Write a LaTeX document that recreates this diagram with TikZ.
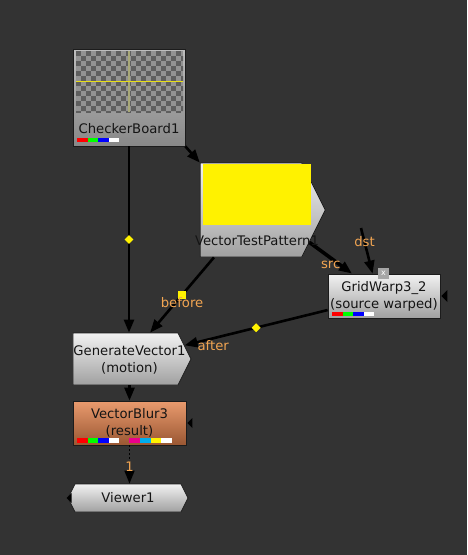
\documentclass[tikz,border=0pt]{standalone}
\usepackage{fontspec}
\setmainfont{DejaVu Sans}
\usetikzlibrary{arrows.meta,shapes.symbols,shapes.geometric}
\definecolor{graphbg}{HTML}{333333}
\definecolor{nodeline}{HTML}{1C1C1C}
\definecolor{nodetext}{HTML}{141414}
\definecolor{labelorange}{HTML}{F2A552}
\definecolor{handleyellow}{HTML}{FFF200}
\definecolor{greytop}{HTML}{F2F2F2}
\definecolor{greybot}{HTML}{A0A0A0}
\definecolor{cbtop}{HTML}{BEBEBE}
\definecolor{cbbot}{HTML}{888888}
\definecolor{blurtop}{HTML}{EA9B6E}
\definecolor{blurbot}{HTML}{9A5733}
\definecolor{checkdark}{HTML}{5E5E5E}
\definecolor{checklight}{HTML}{929292}
\definecolor{paleline}{HTML}{A8A878}
\definecolor{closegrey}{HTML}{A6A6A6}
\newcommand{\nukefont}{\fontsize{13.2}{17}\selectfont}

\begin{document}
\begin{tikzpicture}[x=1pt,y=-1pt]
    \tikzset{%
      nukenode/.style={draw=nodeline, line width=0.8pt, inner sep=0pt,
        font=\nukefont, align=center, text=nodetext},
      greynode/.style={nukenode, top color=greytop, bottom color=greybot},
      pointnode/.style={greynode, signal, signal to=east,
        signal pointer angle=127},
      nodetitle/.style={font=\nukefont, align=center, text=nodetext,
        inner sep=0pt},
      pipe/.style={black, line width=2.6pt,
        -{Triangle[length=13pt,width=10pt]}},
      pipelabel/.style={text=labelorange, font=\nukefont, inner sep=1pt},
      handle/.style={diamond, fill=handleyellow, inner sep=0pt,
        minimum size=10pt},
      handlesq/.style={rectangle, fill=handleyellow, inner sep=0pt,
        minimum size=8pt},
      masktip/.style={fill=black},
    }
    \useasboundingbox (0,0) rectangle (467,555);
    \fill[graphbg] (0,0) rectangle (467,555);

    % CheckerBoard1 with its thumbnail
    \node[nukenode, top color=cbtop, bottom color=cbbot,
      minimum width=112, minimum height=97] (cb) at (129,97.5) {};
    \fill[checklight] (76,51) rectangle (183,112);
    \begin{scope}
      \clip (76,51) rectangle (183,112);
      \foreach \i in {0,...,21}
        \foreach \j in {0,...,12}{
          \pgfmathtruncatemacro\odd{mod(\i+\j,2)}
          \ifnum\odd=0 \fill[checkdark] (76+5*\i,51+5*\j) rectangle ++(5,5); \fi
        }
    \end{scope}
    \draw[paleline, line width=2pt] (129,51) -- (129,112);
    \draw[yellow!90!black, line width=0.8pt] (76,81) -- (183,81);
    \node[nodetitle] (cbtitle) at (129,129) {CheckerBoard1};
    \foreach \c [count=\i from 0] in {red,green,blue,white}
      \fill[\c] (77+10.5*\i,138) rectangle ++(10.5,4);

    % VectorTestPattern1
    \node[pointnode, minimum width=125, minimum height=94] (vtp) at (251,210) {};
    \fill[yellow] (203,164) rectangle (311,225);

    % GridWarp3_2
    \node[greynode, minimum width=112, minimum height=44] (gw) at (384,296)
      {GridWarp3\_2\\(source warped)};
    \foreach \c [count=\i from 0] in {red,green,blue,white}
      \fill[\c] (332+10.5*\i,312) rectangle ++(10.5,4);
    \node[fill=closegrey, minimum size=11pt, inner sep=0pt, text=white,
      font=\fontsize{8}{8}\selectfont] (gwclose) at (383.5,273.5) {x};
    \fill[masktip] ([xshift=1pt]gw.east) -- ++(6,-6) -- ++(0,12) -- cycle;

    % GenerateVector1
    \node[pointnode, minimum width=118, minimum height=52] (gen) at (125.5,359) {};
    \node[nodetitle] (gentitle) at (129.5,359.5) {GenerateVector1\\(motion)};

    % VectorBlur3
    \node[nukenode, top color=blurtop, bottom color=blurbot,
      minimum width=113, minimum height=44] (vb) at (129.5,423)
      {VectorBlur3\\(result)};
    \foreach \c [count=\i from 0] in {red,green,blue,white}
      \fill[\c] (77+10.5*\i,438) rectangle ++(10.5,5);
    \foreach \c [count=\i from 0] in {magenta,cyan,yellow,white}
      \fill[\c] (129+10.75*\i,438) rectangle ++(10.75,5);
    \fill[masktip] ([xshift=1pt]vb.east) -- ++(5,-5) -- ++(0,10) -- cycle;

    % Viewer1
    \node[greynode, signal, signal to=east and west, signal pointer angle=127,
      minimum width=120, minimum height=28] (viewer) at (128,498) {Viewer1};
    \fill[masktip] ([xshift=-1pt]viewer.west) -- ++(5,-5) -- ++(0,10) -- cycle;

    % pipes
    \draw[pipe] (cb.south) -- node[handle] (cbhandle) {} (cb.south |- gen.north);
    \draw[pipe] (cb.south east) -- (vtp.north west);
    \draw[pipe] (vtp.232) -- node[handlesq] (beforehandle) {}
      node[pipelabel, anchor=north] {before} (gen.47);
    \draw[pipe, line width=3.6pt] (vtp.-29) --
      node[pipelabel, anchor=north] {src} (gw.145);
    \coordinate (dstend) at (361,228);
    \draw[pipe] (dstend) -- node[pipelabel, pos=0.3] {dst} (gw.117);
    \draw[pipe] (gw.194) -- node[handle] (afterhandle) {}
      node[pipelabel, anchor=north, pos=0.8] {after} (gen.13);
    \draw[pipe] (gen.south -| vb.north) -- (vb.north);
    \draw[pipe, line width=1.6pt, dash pattern=on 2pt off 2pt] (vb.south) --
      node[pipelabel, pos=0.55] {1} (vb.south |- viewer.north);

    % title of the pattern node sits over its pipes
    \node[nodetitle] (vtptitle) at (257,241) {VectorTestPattern1};
\end{tikzpicture}
\end{document}
